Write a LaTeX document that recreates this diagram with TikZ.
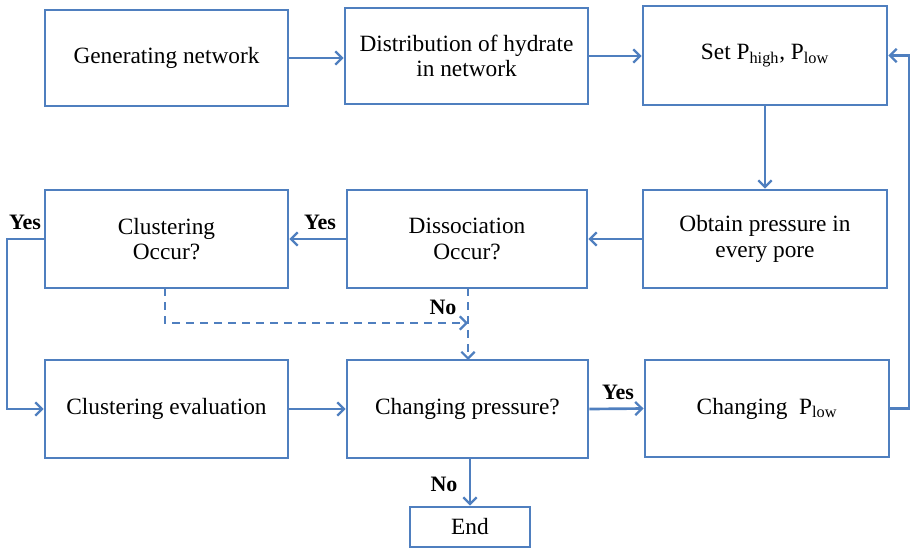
\documentclass[tikz,border=0pt]{standalone}
\usepackage{fontspec}
\setmainfont{Liberation Serif}
\usetikzlibrary{arrows.meta}
\definecolor{lineblue}{HTML}{4F7FBF}
\tikzset{
  box/.style={draw=lineblue, line width=2.2pt, inner sep=0pt, align=center,
    font=\fontsize{17.5pt}{19pt}\selectfont},
  sz/.style 2 args={minimum width={#1*0.75pt}, minimum height={#2*0.75pt}},
  conn/.style={draw=lineblue, line width=2pt, -{Straight Barb[length=5pt,width=10pt,line width=1.7pt]}},
  dconn/.style={conn, dash pattern=on 6pt off 4.5pt},
  lbl/.style={font=\fontsize{16.5pt}{19pt}\selectfont\bfseries}
}
\begin{document}
\begin{tikzpicture}[x=0.75pt,y=-0.75pt]
\useasboundingbox (0,0) rectangle (912,550);
\node[box, sz={243}{96}] (gen) at (166.5,58) {Generating network};
\node[box, sz={243}{96}] (dist) at (466.5,56) {Distribution of hydrate\\in network};
\node[box, sz={244}{99}] (set) at (765,55.5) {Set P\textsubscript{high}, P\textsubscript{low}};
\node[box, sz={243}{98}] (clu) at (166.5,239) {Clustering\\Occur?};
\node[box, sz={240}{98}] (dis) at (467,239) {Dissociation\\Occur?};
\node[box, sz={244}{98}] (obt) at (765,239) {Obtain pressure in\\every pore};
\node[box, sz={243}{98}] (cev) at (166.5,409) {Clustering evaluation};
\node[box, sz={241}{98}] (chp) at (467.5,409) {Changing pressure?};
\node[box, sz={244}{97}] (chl) at (767,408.5) {Changing\ \ P\textsubscript{low}};
\node[box, sz={120}{40}] (end) at (470,527) {End};

\coordinate (lft1) at (7,239);
\coordinate (lft2) at (7,409);
\coordinate (rgt1) at (909,408.5);
\coordinate (d1) at (165,288);
\coordinate (d2) at (165,323);
\coordinate (d3) at (468,323);
\coordinate (d4) at (468,288);
\coordinate (d5) at (468,360);

\draw[conn] (gen.east) -- (gen.east -| dist.west);
\draw[conn] (dist.east) -- (dist.east -| set.west);
\draw[conn] (set.south) -- (obt.north);
\draw[conn] (obt.west) -- (dis.east);
\draw[conn] (dis.west) -- (clu.east);
\draw[conn] (clu.west) -- (lft1) -- (lft2) -- (cev.west);
\draw[conn] (cev.east) -- (chp.west);
\draw[conn] (chp.east) -- (chl.west);
\draw[conn] (end.north |- chp.south) -- (end.north);
\draw[conn] (chl.east) -- (rgt1) -- (rgt1 |- set.east) -- (set.east);
\draw[dconn] (d1) -- (d2) -- (d3);
\draw[dconn] (d4) -- (d5);

\node[lbl] (y1) at (25,222) {Yes};
\node[lbl] (y2) at (320,222) {Yes};
\node[lbl] (n1) at (443,307) {No};
\node[lbl] (y3) at (618,392) {Yes};
\node[lbl] (n2) at (444,484) {No};
\end{tikzpicture}
\end{document}
